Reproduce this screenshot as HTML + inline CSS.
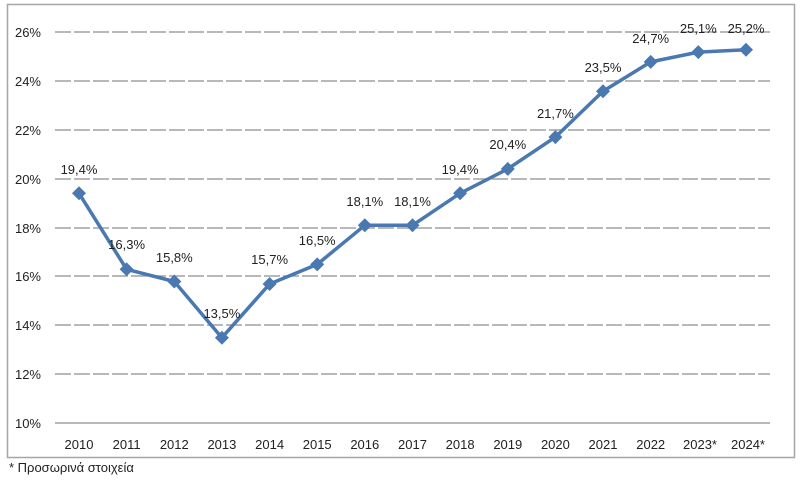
<!DOCTYPE html>
<html><head><meta charset="utf-8"><style>
body{margin:0;background:#fff}
svg text{font-family:"Liberation Sans","DejaVu Sans",sans-serif;fill:#222}
</style></head><body>
<svg width="800" height="480" xmlns="http://www.w3.org/2000/svg">
<rect x="7.5" y="4.5" width="787" height="453" fill="#fff" stroke="#a6a6a6" stroke-width="1.5"/>
<g stroke="#a0a0a0" stroke-width="1.5" stroke-dasharray="16,3">
<line x1="55" x2="770" y1="32" y2="32"/>
<line x1="55" x2="770" y1="81" y2="81"/>
<line x1="55" x2="770" y1="130" y2="130"/>
<line x1="55" x2="770" y1="179" y2="179"/>
<line x1="55" x2="770" y1="228" y2="228"/>
<line x1="55" x2="770" y1="276" y2="276"/>
<line x1="55" x2="770" y1="325" y2="325"/>
<line x1="55" x2="770" y1="374" y2="374"/>
</g>
<line x1="55" x2="770" y1="423" y2="423" stroke="#a0a0a0" stroke-width="1.5"/>
<g font-size="13" text-anchor="end">
<text x="41" y="37">26%</text><text x="41" y="86">24%</text><text x="41" y="135">22%</text>
<text x="41" y="184">20%</text><text x="41" y="233">18%</text><text x="41" y="281">16%</text>
<text x="41" y="330">14%</text><text x="41" y="379">12%</text><text x="41" y="428">10%</text>
</g>
<g font-size="13" text-anchor="middle">
<text x="79" y="449">2010</text><text x="126.6" y="449">2011</text><text x="174.3" y="449">2012</text>
<text x="221.9" y="449">2013</text><text x="269.6" y="449">2014</text><text x="317.2" y="449">2015</text>
<text x="364.8" y="449">2016</text><text x="412.5" y="449">2017</text><text x="460.1" y="449">2018</text>
<text x="507.8" y="449">2019</text><text x="555.4" y="449">2020</text><text x="603" y="449">2021</text>
<text x="650.7" y="449">2022</text><text x="700" y="449">2023*</text><text x="748" y="449">2024*</text>
</g>
<text x="9" y="472" font-size="13">* Προσωρινά στοιχεία</text>
<polyline fill="none" stroke="#4a78b0" stroke-width="3.5" stroke-linejoin="round" points="79,193.3 126.6,269.3 174.3,281.5 221.9,337.7 269.6,284 317.2,264.4 364.8,225.3 412.5,225.3 460.1,193.3 507.8,168.9 555.4,137.1 603,91.2 650.7,61.9 698.3,52.1 746,49.7"/>
<g fill="#4a78b0">
<path d="M79,186.3l7,7-7,7-7-7z"/><path d="M126.6,262.3l7,7-7,7-7-7z"/><path d="M174.3,274.5l7,7-7,7-7-7z"/>
<path d="M221.9,330.7l7,7-7,7-7-7z"/><path d="M269.6,277l7,7-7,7-7-7z"/><path d="M317.2,257.4l7,7-7,7-7-7z"/>
<path d="M364.8,218.3l7,7-7,7-7-7z"/><path d="M412.5,218.3l7,7-7,7-7-7z"/><path d="M460.1,186.3l7,7-7,7-7-7z"/>
<path d="M507.8,161.9l7,7-7,7-7-7z"/><path d="M555.4,130.1l7,7-7,7-7-7z"/><path d="M603,84.2l7,7-7,7-7-7z"/>
<path d="M650.7,54.9l7,7-7,7-7-7z"/><path d="M698.3,45.1l7,7-7,7-7-7z"/><path d="M746,42.7l7,7-7,7-7-7z"/>
</g>
<g font-size="13" text-anchor="middle">
<text x="79" y="174">19,4%</text><text x="126.6" y="249">16,3%</text><text x="174.3" y="262">15,8%</text>
<text x="221.9" y="318">13,5%</text><text x="269.6" y="264">15,7%</text><text x="317.2" y="245">16,5%</text>
<text x="364.8" y="206">18,1%</text><text x="412.5" y="206">18,1%</text><text x="460.1" y="174">19,4%</text>
<text x="507.8" y="149">20,4%</text><text x="555.4" y="118">21,7%</text><text x="603" y="72">23,5%</text>
<text x="650.7" y="43">24,7%</text><text x="698.3" y="33">25,1%</text><text x="746" y="33">25,2%</text>
</g>
</svg>
</body></html>
